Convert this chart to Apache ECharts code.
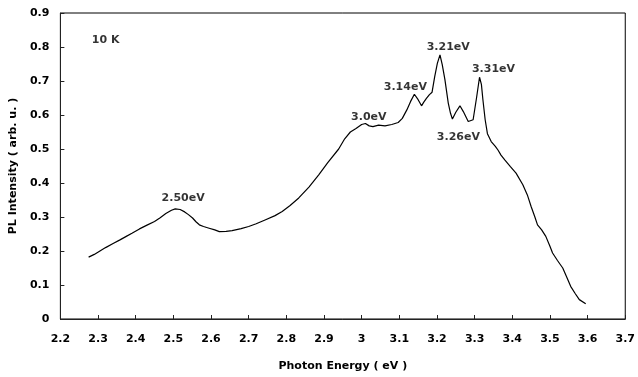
<!DOCTYPE html>
<html><head><meta charset="utf-8">
<script src="https://cdn.jsdelivr.net/npm/echarts@6/dist/echarts.min.js"></script>
<style>html,body{margin:0;padding:0;background:#fff}#c{width:638px;height:377px}</style>
</head><body><div id="c"></div>
<script>
const energy = [2.275,2.29,2.305,2.32,2.34,2.357,2.375,2.39,2.41,2.43,2.45,2.465,2.48,2.495,2.505,2.518,2.53,2.54,2.551,2.56,2.569,2.58,2.595,2.61,2.622,2.64,2.656,2.68,2.70,2.72,2.745,2.77,2.789,2.81,2.833,2.86,2.886,2.91,2.939,2.955,2.97,2.985,3.0,3.01,3.02,3.03,3.045,3.062,3.08,3.097,3.108,3.12,3.13,3.14,3.15,3.159,3.165,3.172,3.18,3.187,3.194,3.201,3.208,3.214,3.221,3.23,3.236,3.241,3.25,3.261,3.27,3.283,3.296,3.305,3.313,3.318,3.322,3.328,3.334,3.344,3.355,3.362,3.37,3.38,3.395,3.41,3.428,3.44,3.45,3.46,3.467,3.478,3.489,3.5,3.507,3.52,3.534,3.545,3.555,3.567,3.578,3.595];
const intensity = [0.182,0.190,0.200,0.210,0.222,0.232,0.243,0.252,0.265,0.276,0.287,0.298,0.310,0.320,0.324,0.322,0.315,0.307,0.297,0.286,0.277,0.272,0.267,0.262,0.257,0.258,0.260,0.266,0.272,0.280,0.292,0.304,0.316,0.334,0.356,0.388,0.424,0.460,0.500,0.530,0.550,0.560,0.572,0.575,0.568,0.566,0.570,0.568,0.572,0.578,0.590,0.615,0.640,0.661,0.645,0.627,0.638,0.649,0.660,0.667,0.713,0.752,0.777,0.748,0.705,0.635,0.605,0.588,0.608,0.627,0.610,0.581,0.586,0.650,0.711,0.690,0.645,0.586,0.545,0.522,0.508,0.497,0.482,0.468,0.448,0.429,0.395,0.365,0.331,0.300,0.277,0.262,0.243,0.214,0.194,0.172,0.150,0.122,0.096,0.075,0.057,0.045];
const annoText = ['10 K','2.50eV','3.0eV','3.14eV','3.21eV','3.31eV','3.26eV'];
const annoX = [2.320,2.526,3.019,3.116,3.230,3.350,3.257];
const annoY = [0.821,0.356,0.595,0.683,0.801,0.735,0.535];
const xTitle = 'Photon Energy ( eV )';
const yTitle = 'PL Intensity ( arb. u. )';

const font = '"DejaVu Sans", sans-serif';
const chart = echarts.init(document.getElementById('c'), null, {renderer:'canvas'});
chart.setOption({
  animation:false,
  backgroundColor:'#fff',
  grid:{left:60,right:10,top:13,bottom:58,show:true,borderColor:'#000',borderWidth:1},
  xAxis:{type:'value',min:2.2,max:3.7,interval:0.1,
    name:xTitle,nameLocation:'middle',nameGap:42,
    nameTextStyle:{fontFamily:font,fontWeight:'bold',fontSize:11,color:'#000'},
    axisLine:{lineStyle:{color:'#222',width:1}},
    axisTick:{inside:true,length:4,lineStyle:{color:'#222'}},
    axisLabel:{fontFamily:font,fontWeight:'bold',fontSize:11,color:'#000',margin:15,
      formatter:v=>{const r=Math.round(v*10)/10;return String(r);}},
    splitLine:{show:false}},
  yAxis:{type:'value',min:0,max:0.9,interval:0.1,
    name:yTitle,nameLocation:'middle',nameGap:37,nameRotate:90,
    nameTextStyle:{fontFamily:font,fontWeight:'bold',fontSize:11,color:'#000'},
    axisLine:{show:true,lineStyle:{color:'#222',width:1}},
    axisTick:{show:true,inside:true,length:4,lineStyle:{color:'#222'}},
    axisLabel:{fontFamily:font,fontWeight:'bold',fontSize:11,color:'#000',margin:11,
      formatter:v=>{const r=Math.round(v*10)/10;return String(r);}},
    splitLine:{show:false}},
  series:[
    {type:'line',data:energy.map((e,i)=>[e,intensity[i]]),showSymbol:false,symbol:'none',
      lineStyle:{color:'#000',width:1.2},smooth:false},
    {type:'scatter',symbolSize:0,silent:true,
      data:annoText.map((t,i)=>({value:[annoX[i],annoY[i]],name:t})),
      label:{show:true,position:'inside',formatter:p=>p.name,fontFamily:font,fontWeight:'bold',fontSize:11,color:'#000'}}
  ]
});
</script></body></html>
